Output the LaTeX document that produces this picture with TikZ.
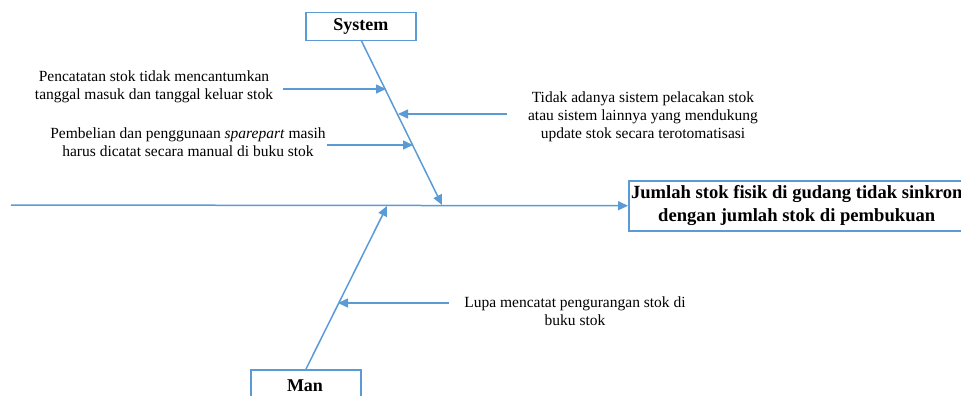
\documentclass[tikz,border=0pt]{standalone}
\usepackage{fontspec}
\setmainfont{Liberation Serif}
\usetikzlibrary{arrows.meta}
\definecolor{fbblue}{HTML}{5B9BD5}
\begin{document}
\begin{tikzpicture}[x=1pt,y=-1pt,
  bone/.style={draw=fbblue,line width=1.5pt,-{Triangle[length=10pt,width=9pt]}},
  catbox/.style={draw=fbblue,line width=1.5pt,fill=white,inner sep=0pt,font=\fontsize{18}{20}\selectfont\bfseries},
  cause/.style={align=center,inner sep=0pt,font=\fontsize{15.5}{18}\selectfont}]
\useasboundingbox (0,0) rectangle (961,396);
\begin{scope}
\clip (0,0) rectangle (961,396);
% effect box
\node[catbox,minimum width=336pt,minimum height=50pt,anchor=north west,align=center,font=\fontsize{18.6}{23}\selectfont\bfseries] (effect) at (628,180) {Jumlah stok fisik di gudang tidak sinkron\\dengan jumlah stok di pembukuan};
% category boxes
\node[catbox,minimum width=110pt,minimum height=28pt,anchor=north west] (system) at (305,12) {System};
\node[catbox,minimum width=110pt,minimum height=40pt,anchor=north west] (manbox) at (250,369) {};
\node[font=\fontsize{18}{20}\selectfont\bfseries] (man) at (305,386) {Man};
% coordinates
\coordinate (head) at (11,205);
\coordinate (sysend) at (442,205);
\coordinate (manend) at (387,206);
\coordinate (systop) at (361,40);
\coordinate (manbot) at (306,369);
\coordinate (a1s) at (283,89);  \coordinate (a1e) at (386,89);
\coordinate (a2s) at (507,114); \coordinate (a2e) at (398,114);
\coordinate (a3s) at (327,145); \coordinate (a3e) at (413,145);
\coordinate (a4s) at (449,303); \coordinate (a4e) at (338,303);
% main line
\draw[bone] (head) -- (effect.west);
\draw[bone] (systop) -- (sysend);
\draw[bone] (manbot) -- (manend);
\draw[bone] (a1s) -- (a1e);
\draw[bone] (a2s) -- (a2e);
\draw[bone] (a3s) -- (a3e);
\draw[bone] (a4s) -- (a4e);
% causes
\node[cause] (c1) at (154,87) {Pencatatan stok tidak mencantumkan\\tanggal masuk dan tanggal keluar stok};
\node[cause] (c2) at (188,142) {Pembelian dan penggunaan \textit{sparepart} masih\\harus dicatat secara manual di buku stok};
\node[cause] (c3) at (643,117) {Tidak adanya sistem pelacakan stok\\atau sistem lainnya yang mendukung\\update stok secara terotomatisasi};
\node[cause] (c4) at (575,311) {Lupa mencatat pengurangan stok di\\buku stok};
\end{scope}
\end{tikzpicture}
\end{document}
